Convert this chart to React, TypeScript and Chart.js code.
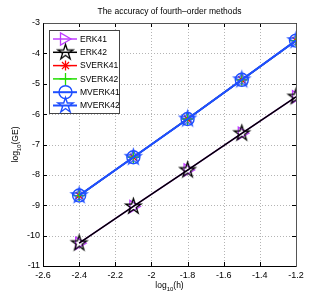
import React, { useEffect, useRef } from 'react';
import { Chart, registerables } from 'chart.js';
import { drawPoint } from 'chart.js/helpers';

Chart.register(...registerables);

const logH = [-2.4, -2.1, -1.8, -1.5, -1.2];
const erk41 = [-10.25, -9.04, -7.84, -6.63, -5.43];
const erk42 = [-10.25, -9.04, -7.84, -6.63, -5.43];
const sverk41 = [-8.68, -7.42, -6.16, -4.87, -3.58];
const sverk42 = [-8.68, -7.42, -6.16, -4.87, -3.58];
const mverk41 = [-8.68, -7.42, -6.16, -4.87, -3.58];
const mverk42 = [-8.68, -7.42, -6.16, -4.87, -3.58];
const seriesNames = ['ERK41', 'ERK42', 'SVERK41', 'SVERK42', 'MVERK41', 'MVERK42'];
const xTicks = [-2.6, -2.4, -2.2, -2.0, -1.8, -1.6, -1.4, -1.2];
const yTicks = [-11, -10, -9, -8, -7, -6, -5, -4, -3];
const titleText = 'The accuracy of fourth\u2013order methods';

const FONT = '"Liberation Sans", Arial, Helvetica, sans-serif';

function makePentagram(color: string, r: number, lw: number) {
  const c = document.createElement('canvas');
  const s = Math.ceil(2 * r + lw * 2 + 2);
  c.width = s;
  c.height = s;
  const ctx = c.getContext('2d')!;
  ctx.strokeStyle = color;
  ctx.lineWidth = lw;
  ctx.lineJoin = 'miter';
  ctx.beginPath();
  for (let i = 0; i < 10; i++) {
    const a = -Math.PI / 2 + (i * Math.PI) / 5;
    const rr = i % 2 === 0 ? r : r * 0.382;
    const px = s / 2 + Math.cos(a) * rr;
    const py = s / 2 + Math.sin(a) * rr;
    if (i === 0) ctx.moveTo(px, py);
    else ctx.lineTo(px, py);
  }
  ctx.closePath();
  ctx.stroke();
  return c;
}

export default function App() {
  const ref = useRef<HTMLCanvasElement | null>(null);

  useEffect(() => {
    document.body.style.margin = '0';
    const canvas = ref.current!;
    const magenta = '#bf3cff';
    const blue = '#1f4fff';
    const blackStar = makePentagram('#000000', 8, 1.3);
    const blueStar = makePentagram(blue, 8, 1.4);

    const mk = (vals: number[]) => logH.map((x, i) => ({ x, y: vals[i] }));

    const datasets: any[] = [
      {
        label: seriesNames[0], data: mk(erk41), borderColor: magenta, borderWidth: 1.5,
        pointStyle: 'triangle', pointRotation: 90, pointRadius: 7, pointBorderColor: magenta,
        pointBackgroundColor: 'rgba(0,0,0,0)', pointBorderWidth: 1.3, order: 6,
      },
      {
        label: seriesNames[1], data: mk(erk42), borderColor: '#000000', borderWidth: 1.5,
        pointStyle: blackStar, pointRadius: 8, pointBorderColor: '#000000',
        pointBackgroundColor: 'rgba(0,0,0,0)', pointBorderWidth: 1.3, order: 5,
      },
      {
        label: seriesNames[2], data: mk(sverk41), borderColor: '#ff0000', borderWidth: 1.5,
        pointStyle: 'star', pointRadius: 5, pointBorderColor: '#ff0000',
        pointBackgroundColor: 'rgba(0,0,0,0)', pointBorderWidth: 1.3, order: 4,
      },
      {
        label: seriesNames[3], data: mk(sverk42), borderColor: '#22dd00', borderWidth: 1.5,
        pointStyle: 'cross', pointRadius: 6, pointBorderColor: '#22dd00',
        pointBackgroundColor: 'rgba(0,0,0,0)', pointBorderWidth: 1.3, order: 3,
      },
      {
        label: seriesNames[4], data: mk(mverk41), borderColor: blue, borderWidth: 2,
        pointStyle: 'circle', pointRadius: 6.5, pointBorderColor: blue,
        pointBackgroundColor: 'rgba(0,0,0,0)', pointBorderWidth: 1.4, order: 2,
      },
      {
        label: seriesNames[5], data: mk(mverk42), borderColor: blue, borderWidth: 2,
        pointStyle: blueStar, pointRadius: 8, pointBorderColor: blue,
        pointBackgroundColor: 'rgba(0,0,0,0)', pointBorderWidth: 1.4, order: 1,
      },
    ];

    const framePlugin = {
      id: 'frame',
      beforeDatasetsDraw(chart: any) {
        const { ctx, chartArea: a, scales } = chart;
        const xs = scales.x;
        const ys = scales.y;
        ctx.save();
        ctx.strokeStyle = '#b4b4b4';
        ctx.lineWidth = 1;
        ctx.setLineDash([1, 2]);
        xTicks.forEach((v) => {
          const px = Math.round(xs.getPixelForValue(v)) + 0.5;
          if (px < a.left + 2 || px > a.right - 2) return;
          ctx.beginPath();
          ctx.moveTo(px, a.top);
          ctx.lineTo(px, a.bottom);
          ctx.stroke();
        });
        yTicks.forEach((v) => {
          const py = Math.round(ys.getPixelForValue(v)) + 0.5;
          if (py < a.top + 2 || py > a.bottom - 2) return;
          ctx.beginPath();
          ctx.moveTo(a.left, py);
          ctx.lineTo(a.right, py);
          ctx.stroke();
        });
        ctx.setLineDash([]);
        ctx.strokeStyle = '#000000';
        const tl = 4;
        xTicks.forEach((v) => {
          const px = Math.round(xs.getPixelForValue(v)) + 0.5;
          ctx.beginPath();
          ctx.moveTo(px, a.bottom);
          ctx.lineTo(px, a.bottom - tl);
          ctx.moveTo(px, a.top);
          ctx.lineTo(px, a.top + tl);
          ctx.stroke();
        });
        yTicks.forEach((v) => {
          const py = Math.round(ys.getPixelForValue(v)) + 0.5;
          ctx.beginPath();
          ctx.moveTo(a.left, py);
          ctx.lineTo(a.left + tl, py);
          ctx.moveTo(a.right, py);
          ctx.lineTo(a.right - tl, py);
          ctx.stroke();
        });
        const L = Math.round(a.left) + 0.5;
        const R = Math.round(a.right) + 0.5;
        const T = Math.round(a.top) + 0.5;
        const B = Math.round(a.bottom) + 0.5;
        ctx.strokeStyle = '#555555';
        ctx.beginPath();
        ctx.moveTo(L, T);
        ctx.lineTo(R, T);
        ctx.lineTo(R, B);
        ctx.stroke();
        ctx.strokeStyle = '#000000';
        ctx.beginPath();
        ctx.moveTo(L, T);
        ctx.lineTo(L, B);
        ctx.lineTo(R, B);
        ctx.stroke();
        ctx.restore();
      },
      afterDraw(chart: any) {
        const { ctx, chartArea: a } = chart;
        ctx.save();
        ctx.fillStyle = '#000000';
        // title centered over plot area
        ctx.font = `8.5px ${FONT}`;
        ctx.textAlign = 'center';
        ctx.textBaseline = 'middle';
        ctx.fillText(titleText, (a.left + a.right) / 2, 12);

        ctx.textBaseline = 'alphabetic';
        const drawLabel = (tail: string) => {
          ctx.font = `8.5px ${FONT}`;
          const w1 = ctx.measureText('log').width;
          const w3 = ctx.measureText(tail).width;
          ctx.font = `6px ${FONT}`;
          const w2 = ctx.measureText('10').width;
          const total = w1 + w2 + w3;
          const x0 = -total / 2;
          ctx.font = `8.5px ${FONT}`;
          ctx.textAlign = 'left';
          ctx.fillText('log', x0, 0);
          ctx.font = `6px ${FONT}`;
          ctx.fillText('10', x0 + w1, 3);
          ctx.font = `8.5px ${FONT}`;
          ctx.fillText(tail, x0 + w1 + w2, 0);
        };
        ctx.save();
        ctx.translate((a.left + a.right) / 2, 288);
        drawLabel('(h)');
        ctx.restore();
        ctx.save();
        ctx.translate(18, (a.top + a.bottom) / 2);
        ctx.rotate(-Math.PI / 2);
        drawLabel('(GE)');
        ctx.restore();

        // legend
        const bx = 49.5, by = 30.5, bw = 70, bh = 83;
        ctx.fillStyle = '#ffffff';
        ctx.fillRect(bx, by, bw, bh);
        ctx.strokeStyle = '#444444';
        ctx.lineWidth = 1;
        ctx.strokeRect(bx, by, bw, bh);
        const ys0 = 39;
        const step = 13.3;
        chart.data.datasets.forEach((ds: any, i: number) => {
          const yy = ys0 + i * step;
          ctx.strokeStyle = ds.borderColor;
          ctx.lineWidth = ds.borderWidth;
          ctx.beginPath();
          ctx.moveTo(53, yy);
          ctx.lineTo(77, yy);
          ctx.stroke();
          ctx.strokeStyle = ds.pointBorderColor;
          ctx.fillStyle = 'rgba(0,0,0,0)';
          ctx.lineWidth = ds.pointBorderWidth;
          const mx = ds.pointStyle === 'triangle' ? 64 : 65.5;
          drawPoint(ctx, {
            pointStyle: ds.pointStyle,
            rotation: ds.pointRotation || 0,
            radius: ds.pointRadius,
            borderWidth: ds.pointBorderWidth,
          } as any, mx, yy);
          ctx.fillStyle = '#000000';
          ctx.font = `8.5px ${FONT}`;
          ctx.textAlign = 'left';
          ctx.textBaseline = 'middle';
          ctx.fillText(ds.label, 80, yy + 0.5);
        });
        ctx.restore();
      },
    };

    const fmt = (v: number) => String(Number(v.toFixed(1)));

    const chart = new Chart(canvas, {
      type: 'line',
      data: { datasets },
      options: {
        animation: false,
        responsive: false,
        maintainAspectRatio: false,
        layout: { padding: { left: 0, right: 31, top: 23, bottom: 0 } },
        plugins: {
          legend: { display: false },
          tooltip: { enabled: false },
          title: { display: false },
        },
        scales: {
          x: {
            type: 'linear',
            min: -2.6,
            max: -1.2,
            afterBuildTicks: (s: any) => { s.ticks = xTicks.map((v) => ({ value: v })); },
            afterFit: (s: any) => { s.height = 34; },
            grid: { display: false, drawTicks: false },
            border: { display: false },
            ticks: {
              color: '#000000',
              font: { family: FONT, size: 9 },
              padding: 4,
              maxRotation: 0,
              autoSkip: false,
              callback: (v: any) => fmt(Number(v)),
            },
          },
          y: {
            type: 'linear',
            min: -11,
            max: -3,
            afterBuildTicks: (s: any) => { s.ticks = yTicks.map((v) => ({ value: v })); },
            afterFit: (s: any) => { s.width = 43; },
            grid: { display: false, drawTicks: false },
            border: { display: false },
            ticks: {
              color: '#000000',
              font: { family: FONT, size: 9 },
              padding: 3,
              autoSkip: false,
              callback: (v: any) => String(v),
            },
          },
        },
      },
      plugins: [framePlugin],
    });
    return () => chart.destroy();
  }, []);

  return (
    <div style={{ width: 327, height: 300 }}>
      <canvas ref={ref} width={327} height={300} style={{ width: 327, height: 300, display: 'block' }} />
    </div>
  );
}
